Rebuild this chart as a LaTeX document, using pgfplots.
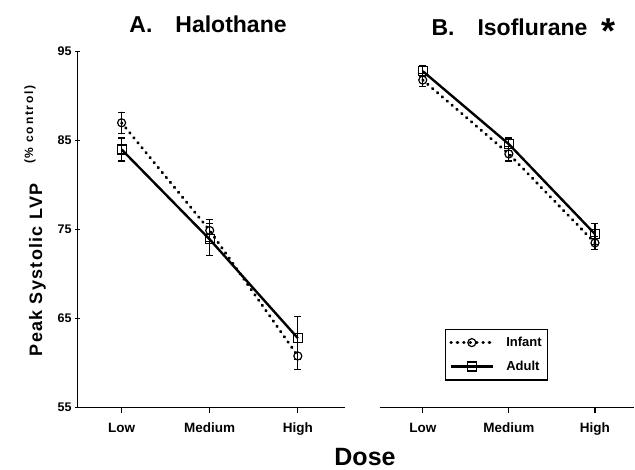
\documentclass[border=0pt]{standalone}
\usepackage{fontspec}
\setmainfont{Liberation Sans}
\usepackage{pgfplots}
\pgfplotsset{compat=1.18}
\pgfplotsset{
  panel/.style={
    scale only axis, anchor=south west,
    ymin=55, ymax=95, xmin=-0.5,
    axis x line=bottom,
    xtick={0,1,2}, xticklabels={Low,Medium,High},
    ytick={55,65,75,85,95},
    tick style={line width=1.2pt, black},
    tick align=outside, major tick length=5pt,
    tick label style={font=\bfseries\fontsize{13.5}{15}\selectfont},
    yticklabel style={font=\bfseries\fontsize{12.5}{14}\selectfont},
    xticklabel style={text height=10pt, text depth=3pt, yshift=-6pt},
    /pgf/number format/assume math mode=true,
    clip=false,
  },
  nolinearrows/.style={
    every outer x axis line/.append style={-},
    every outer y axis line/.append style={-},
    axis line style={line width=1.8pt,-},
  },
  myleg/.style={legend image code/.code={%
    \draw[mark repeat=2,mark phase=2,##1] plot coordinates {(0pt,0pt) (21pt,0pt) (42pt,0pt)};}},
  infant/.style={black, line width=3.0pt, dash pattern=on 0.6pt off 5.8pt, line cap=round,
    mark=o, mark size=4pt, mark options={solid, fill=white, line width=1.2pt},
    error bars/y dir=both, error bars/y explicit,
    error bars/error bar style={solid, line width=1.2pt},
    error bars/error mark options={rotate=90, mark size=3.5pt, line width=1.2pt}},
  adult/.style={black, line width=2.4pt,
    mark=square, mark size=4.5pt, mark options={solid, fill=white, line width=1.2pt},
    error bars/y dir=both, error bars/y explicit,
    error bars/error bar style={solid, line width=1.2pt},
    error bars/error mark options={rotate=90, mark size=3.5pt, line width=1.2pt}},
}
\begin{document}
\begin{tikzpicture}[x=1pt,y=1pt]
\useasboundingbox (0,0) rectangle (635,469);
% Panel A
\begin{axis}[panel, at={(88,69)}, width=267pt, height=356pt, xmax=2.53,
  axis y line=left, nolinearrows]
\addplot[infant] coordinates {(0,87.0) +- (0,1.2) (1,74.9) +- (0,1.2) (2,60.8) +- (0,1.5)};
\addplot[adult] coordinates {(0,84.0) +- (0,1.3) (1,73.9) +- (0,1.8) (2,62.8) +- (0,2.4)};
\end{axis}
% Panel B
\begin{axis}[panel, at={(441,69)}, width=254pt, height=356pt, xmax=2.45,
  axis y line=none, nolinearrows, myleg,
  legend style={at={(0.256,0.222)}, anchor=north west, draw=black, line width=1.2pt,
    font=\bfseries\fontsize{13}{15}\selectfont, row sep=9pt, inner xsep=4pt, inner ysep=6pt},
  legend cell align=left]
\addplot[infant] coordinates {(0,91.8) +- (0,0.7) (1,83.5) +- (0,0.8) (2,73.5) +- (0,0.7)};
\addplot[adult] coordinates {(0,92.8) +- (0,0.6) (1,84.6) +- (0,0.7) (2,74.5) +- (0,1.2)};
\legend{\hspace{10pt}Infant\hspace{6pt}, \hspace{10pt}Adult}
\end{axis}
% Titles and labels
\node[font=\bfseries\fontsize{23}{27}\selectfont, anchor=base] at (208,436) {A.\quad Halothane};
\node[font=\bfseries\fontsize{23}{27}\selectfont, anchor=base west] at (428,433) {B.\quad Isoflurane\hspace{14pt}\raisebox{-8pt}{\fontsize{36}{36}\selectfont *}};
\node[rotate=90, anchor=base, font=\bfseries\fontsize{18}{22}\selectfont] at (42,248)
  {\addfontfeatures{LetterSpace=7}Peak Systolic LVP\hspace{20pt}\raisebox{9pt}{\fontsize{12}{14}\selectfont\addfontfeatures{LetterSpace=14}(\% control)}};
\node[font=\bfseries\fontsize{25}{30}\selectfont, anchor=base] at (365,4) {Dose};
\end{tikzpicture}
\end{document}
